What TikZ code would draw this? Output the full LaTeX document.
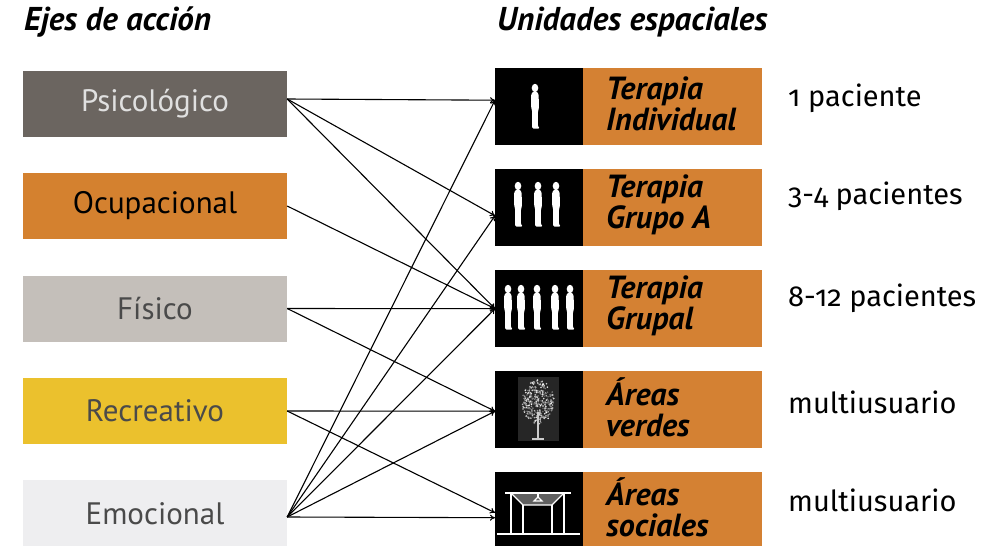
\documentclass[tikz,border=0pt]{standalone}
\usepackage{fontspec}
\setmainfont{PT Sans}
\newfontfamily\countfont[Numbers=OldStyle]{Fira Sans}
\usetikzlibrary{arrows.meta,calc}

\definecolor{psigray}{HTML}{6B6560}
\definecolor{ocuorange}{HTML}{D4812F}
\definecolor{fisgray}{HTML}{C4BFBA}
\definecolor{recyellow}{HTML}{EBC12D}
\definecolor{emolight}{HTML}{EEEEF0}
\definecolor{unitorange}{HTML}{D48133}
\definecolor{darktext}{HTML}{4A4A4A}

\tikzset{
  axisbox/.style={draw=none, minimum width=264pt, minimum height=66pt,
    inner sep=0pt, font=\fontsize{31}{34}\selectfont},
  iconbox/.style={fill=black, draw=none, minimum width=88pt, minimum height=77pt,
    inner sep=0pt, anchor=north west},
  labelbox/.style={fill=unitorange, draw=none, minimum width=179pt, minimum height=77pt,
    inner sep=0pt, anchor=north west},
  unitlabel/.style={anchor=west, align=left, inner sep=0pt,
    font=\fontsize{32}{31}\selectfont\bfseries\itshape},
  countlabel/.style={anchor=west, inner sep=0pt, font=\countfont\fontsize{29}{32}\selectfont},
  heading/.style={anchor=west, inner sep=0pt, font=\fontsize{33}{36}\selectfont\bfseries\itshape},
  link/.style={draw=black, line width=1.1pt, -{To[length=5pt,width=6pt]}},
  person/.pic={
    \fill[white] (0,4) ellipse (3.3 and 4.2);
    \fill[white, rounded corners=1.2pt]
      (-1.8,7.6) -- (1.8,7.6) -- (3.6,10) -- (4,24) -- (3,27) -- (2.8,42)
      -- (4.8,44.5) -- (-2.8,44.5) -- (-2.8,27) -- (-3.8,24) -- (-3.8,10) -- cycle;
  }
}

\begin{document}
\begin{tikzpicture}[x=1pt, y=-1pt]
\useasboundingbox (0,0) rectangle (985,546);

% headings
\node[heading] (h1) at (24,22) {Ejes de acción};
\node[heading] (h2) at (497,22) {Unidades espaciales};

% action axes
\node[axisbox, fill=psigray, text=white!88!black] (psi) at (155,103.5) {Psicológico};
\node[axisbox, fill=ocuorange, text=black] (ocu) at (155,206) {Ocupacional};
\node[axisbox, fill=fisgray, text=darktext] (fis) at (155,308.5) {Físico};
\node[axisbox, fill=recyellow, text=darktext] (rec) at (155,411) {Recreativo};
\node[axisbox, fill=emolight, text=darktext, minimum height=68pt] (emo) at (155,514) {Emocional};

% spatial units: icon panel + label panel
\foreach \n/\y in {ind/68, gra/169, grp/270, ver/371, soc/472}{
  \node[iconbox] (\n) at (495,\y) {};
  \node[labelbox] (\n-l) at (583,\y) {};
}
\node[unitlabel] (ind-t) at (606,104) {Terapia\\Individual};
\node[unitlabel] (gra-t) at (606,205) {Terapia\\Grupo A};
\node[unitlabel] (grp-t) at (606,306) {Terapia\\Grupal};
\node[unitlabel] (ver-t) at (606,407) {Áreas\\verdes};
\node[unitlabel] (soc-t) at (606,507) {Áreas\\sociales};

% patient counts
\node[countlabel] (c1) at (788,98) {1 paciente};
\node[countlabel] (c2) at (788,196) {3-4 pacientes};
\node[countlabel] (c3) at (788,298) {8-12 pacientes};
\node[countlabel] (c4) at (788,402) {multiusuario};
\node[countlabel] (c5) at (788,500) {multiusuario};

% icons: people
\pic at (535,84) {person};
\foreach \x in {518,538,556} \pic at (\x,182) {person};
\foreach \x in {508,521,537,555,570} \pic at (\x,285) {person};

% icon: tree
\fill[black!85!white] (518,377) rectangle (559,441);
\pgfmathsetseed{11}
\foreach \i in {1,...,320}{
  \pgfmathsetmacro\rr{sqrt(rnd)}
  \pgfmathsetmacro\tt{rnd*360}
  \pgfmathsetmacro\gg{int(35+65*rnd)}
  \pgfmathsetmacro\px{538+16*\rr*cos(\tt)}
  \pgfmathsetmacro\py{402+22*\rr*sin(\tt)}
  \fill[white!\gg!black] (\px,\py) circle (0.9);
}
\draw[white!80!black, line width=1.2pt] (538,412) -- (538,438);
\draw[white!80!black, line width=1.2pt] (532,439) -- (544,439);

% icon: pergola
\fill[gray!75!black] (513,494) -- (562,494) -- (552,505) -- (523,505) -- cycle;
\begin{scope}[white, line width=1.2pt]
  \draw[line width=1.8pt] (505,493) -- (571,493);
  \draw (511,493) -- (511,534) (564,493) -- (564,534);
  \draw (511,493) -- (523,505) -- (552,505) -- (564,493);
  \draw (523,505) -- (523,534) (552,505) -- (552,534);
  \draw (538,493) -- (538,497);
  \draw (534,501) -- (538,497) -- (542,501) -- cycle;
  \draw[line width=1.8pt] (497,534) -- (580,534);
\end{scope}

% links between axes and units
\draw[link] ([yshift=4.5pt]psi.east) -- ([yshift=6.5pt]ind.west);
\draw[link] ([yshift=4.5pt]psi.east) -- ([yshift=-8pt]gra.west);
\draw[link] ([yshift=4.5pt]psi.east) -- (grp.west);
\draw[link] (ocu.east) -- (grp.west);
\draw[link] (fis.east) -- (grp.west);
\draw[link] (fis.east) -- ([yshift=-1.5pt]ver.west);
\draw[link] (rec.east) -- ([yshift=-1.5pt]ver.west);
\draw[link] (rec.east) -- ([yshift=-2pt]soc.west);
\draw[link] ([yshift=-3pt]emo.east) -- ([yshift=-7pt]soc.west);
\draw[link] ([yshift=-3pt]emo.east) -- ([yshift=-1.5pt]ver.west);
\draw[link] ([yshift=-3pt]emo.east) -- (grp.west);
\draw[link] ([yshift=-3pt]emo.east) -- ([yshift=-8pt]gra.west);
\draw[link] ([yshift=-3pt]emo.east) -- ([yshift=6.5pt]ind.west);
\end{tikzpicture}
\end{document}
